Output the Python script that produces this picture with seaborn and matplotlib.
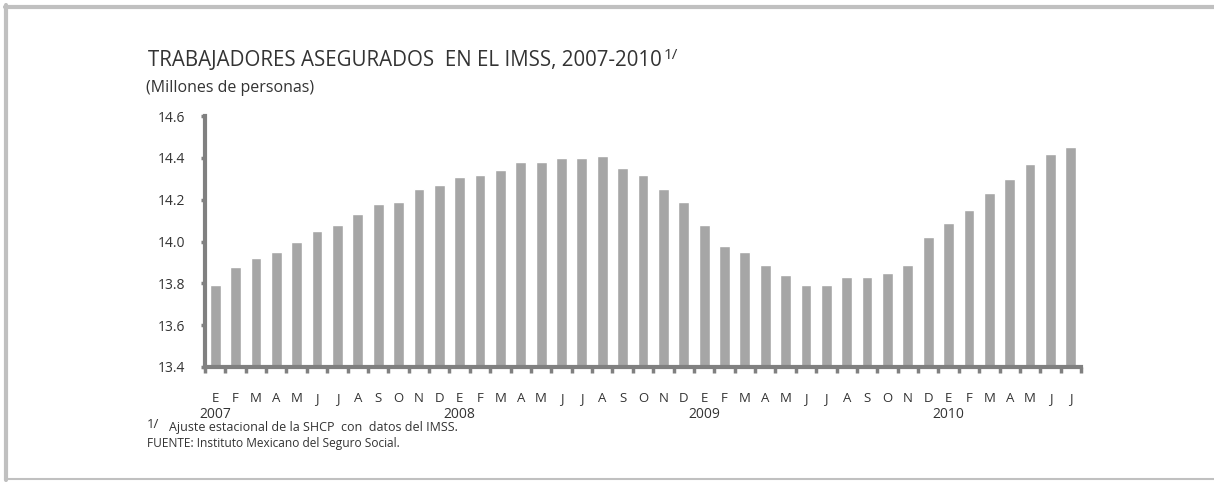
import pandas as pd
import seaborn as sns
import matplotlib.pyplot as plt
from matplotlib import transforms
from matplotlib.lines import Line2D

# datos (millones de personas, ajuste estacional)
meses = ['E', 'F', 'M', 'A', 'M', 'J', 'J', 'A', 'S', 'O', 'N', 'D'] * 3 + ['E', 'F', 'M', 'A', 'M', 'J', 'J']
anios = ['2007', '2008', '2009', '2010']
trabajadores = [13.79, 13.88, 13.92, 13.95, 14.00, 14.05, 14.08, 14.13, 14.18, 14.19, 14.25, 14.27,
                14.31, 14.32, 14.34, 14.38, 14.38, 14.40, 14.40, 14.41, 14.35, 14.32, 14.25, 14.19,
                14.08, 13.98, 13.95, 13.89, 13.84, 13.79, 13.79, 13.83, 13.83, 13.85, 13.89, 14.02,
                14.09, 14.15, 14.23, 14.30, 14.37, 14.42, 14.45]
y_ticks = [13.4, 13.6, 13.8, 14.0, 14.2, 14.4, 14.6]

df = pd.DataFrame({'n': range(len(trabajadores)), 'valor': trabajadores})

sns.set_style('white')
plt.rcParams['font.family'] = ['Open Sans', 'DejaVu Sans']

gris_txt = '#333333'
gris_eje = '#808080'

fig = plt.figure(figsize=(12.14, 4.82), dpi=100)
ax = fig.add_axes([205 / 1214, 1 - 367 / 482, (1081 - 205) / 1214, (367 - 116) / 482])

sns.barplot(data=df, x='n', y='valor', color='#a6a6a6', saturation=1, width=0.53, ax=ax)

ax.set_ylim(13.4, 14.6)
ax.set_xlim(-0.5, len(trabajadores) - 0.5)
ax.set_yticks(y_ticks)
ax.set_yticklabels(['{:.1f}'.format(v) for v in y_ticks], fontsize=10, color=gris_txt)
ax.tick_params(axis='y', length=3, width=2.5, color=gris_eje, pad=11, left=True)

# etiquetas de mes al centro, marcas entre barras
ax.set_xticks(range(len(meses)))
ax.set_xticklabels(meses, fontsize=9.5, color=gris_txt)
ax.tick_params(axis='x', which='major', length=0, pad=18)
ax.set_xticks([i - 0.5 for i in range(len(meses) + 1)], minor=True)
ax.tick_params(axis='x', which='minor', length=4, width=2.5, color=gris_eje, bottom=True, direction='out')
ax.set_xlabel('')
ax.set_ylabel('')

sns.despine(ax=ax, top=True, right=True)
for s in ['left', 'bottom']:
    ax.spines[s].set_color(gris_eje)
    ax.spines[s].set_linewidth(3)

# años bajo cada enero
trans = transforms.blended_transform_factory(ax.transData, fig.transFigure)
for i, anio in enumerate(anios):
    ax.text(i * 12, 1 - 414 / 482, anio, transform=trans, ha='center', va='center',
            fontsize=10, color=gris_txt)

# titulos
titulo = fig.text(148 / 1214, 1 - 66 / 482, 'TRABAJADORES ASEGURADOS  EN EL IMSS, 2007-2010',
                  fontsize=14.8, color=gris_txt, va='baseline')
fig.text(146 / 1214, 1 - 92 / 482, '(Millones de personas)', fontsize=11.5, color=gris_txt, va='baseline')

fig.canvas.draw()
bb = titulo.get_window_extent()
fig.text((bb.x1 + 2) / 1214, 1 - 59 / 482, '1/', fontsize=11, color=gris_txt, va='baseline')

# notas
fig.text(147 / 1214, 1 - 428 / 482, '1/', fontsize=9.5, color=gris_txt, va='baseline')
fig.text(169 / 1214, 1 - 431 / 482, 'Ajuste estacional de la SHCP  con  datos del IMSS.',
         fontsize=9, color=gris_txt, va='baseline')
fig.text(147 / 1214, 1 - 447 / 482, 'FUENTE: Instituto Mexicano del Seguro Social.',
         fontsize=8.6, color=gris_txt, va='baseline')

# marco
borde = '#c0c0c0'
fig.add_artist(Line2D([5 / 1214, 1], [1 - 7 / 482, 1 - 7 / 482], transform=fig.transFigure, color=borde, lw=3))
fig.add_artist(Line2D([6 / 1214, 6 / 1214], [1 - 5 / 482, 1 - 480 / 482], transform=fig.transFigure, color=borde, lw=3))
fig.add_artist(Line2D([5 / 1214, 1], [1 - 479 / 482, 1 - 479 / 482], transform=fig.transFigure, color=borde, lw=1.5))

fig.savefig('out.png', dpi=100)
